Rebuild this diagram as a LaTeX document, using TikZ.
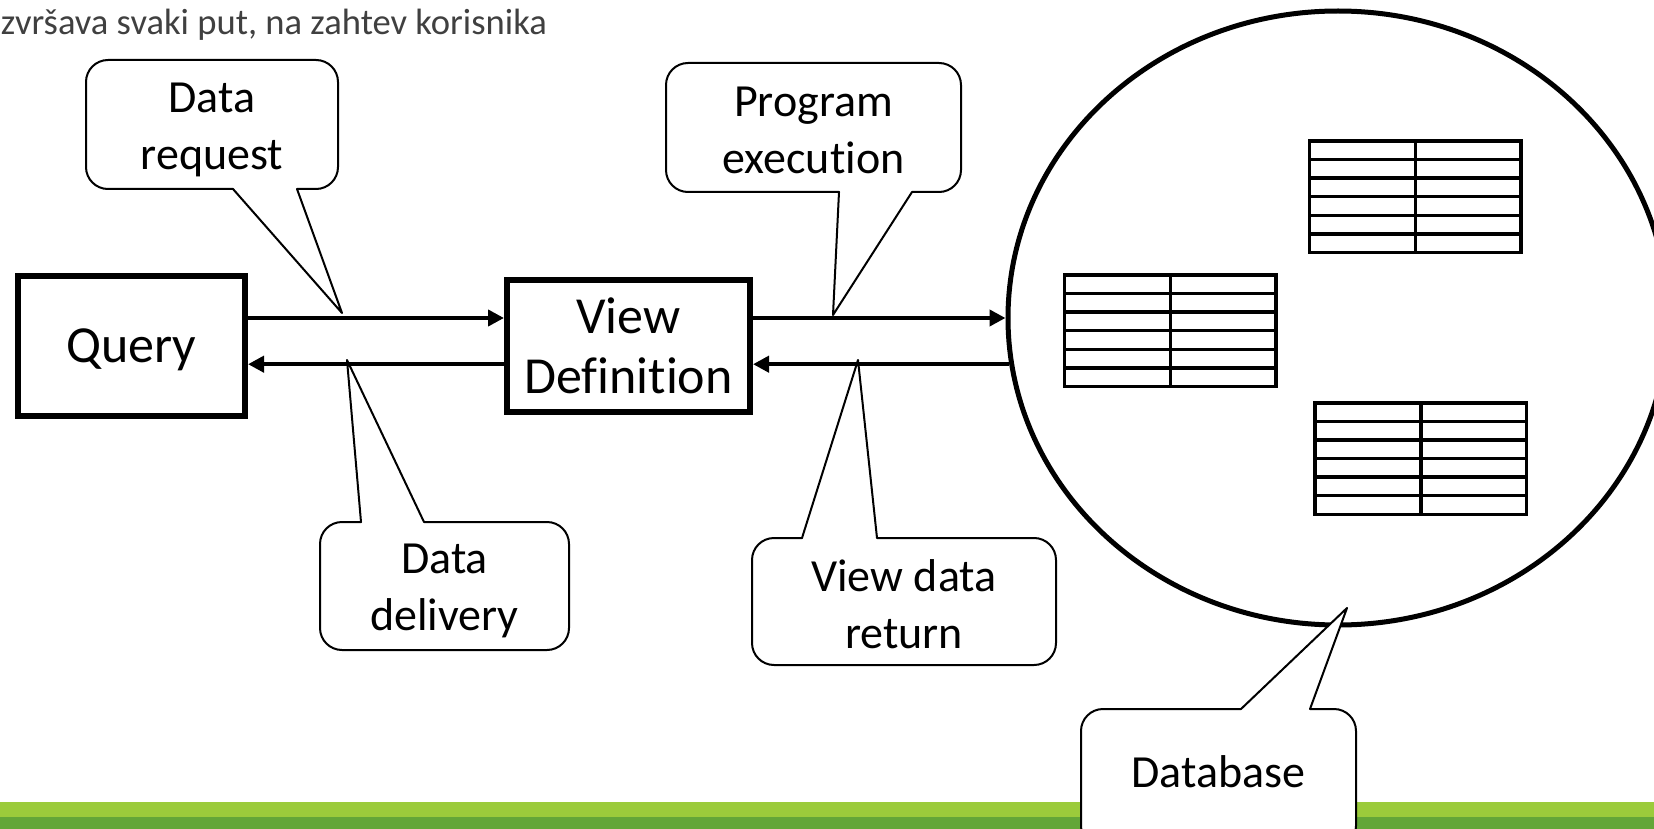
\documentclass[tikz,border=0pt]{standalone}
\usepackage{fontspec}
\setmainfont{Carlito}[Ligatures=NoCommon]
\usetikzlibrary{arrows.meta,shapes.geometric}
\definecolor{lgreen}{HTML}{9BCB3B}
\definecolor{dgreen}{HTML}{63A638}
\definecolor{topgray}{HTML}{404040}
\newcommand\qfont{\fontsize{52}{60}\selectfont}
\newcommand\cfont{\fontsize{46}{57}\selectfont}
\newcommand\tfont{\fontsize{36.6}{42}\selectfont}
\begin{document}
\begin{tikzpicture}[x=1pt,y=-1pt,
  box/.style={draw, line width=6pt, inner sep=0pt},
  boxtext/.style={inner sep=0pt, align=center, font=\qfont},
  arr/.style={line width=4.5pt, -{Triangle[length=16pt,width=16pt]}},
  callbox/.style={fill=white, rounded corners=22pt, inner sep=0pt, outer sep=0pt},
  calltext/.style={inner sep=0pt, align=center, font=\cfont},
  cline/.style={line width=2pt, line cap=round, line join=round},
  tbl/.style={line width=3.5pt},
  dbell/.style={draw, ellipse, line width=5pt, inner sep=0pt}]
\useasboundingbox (0,0) rectangle (1654,829);
% bottom bars
\fill[lgreen] (0,802) rectangle (1654,817);
\fill[dgreen] (0,817) rectangle (1654,829);
% title text
\node[anchor=base east, font=\tfont, text=topgray, inner sep=0pt] (title) at (547,35) {zvršava svaki put, na zahtev korisnika};
% database ellipse
\node[dbell, minimum width=660pt, minimum height=614pt] (db) at (1338,318) {};
% tables
\foreach \tx/\ty in {1309.5/141, 1064.5/275, 1314.8/402.8}{
  \draw[tbl] (\tx,\ty) rectangle ++(211.5,111.5);
  \foreach \i in {1,...,5}{\draw[tbl] (\tx,{\ty+\i*18.58}) -- ++(211.5,0);}
  \draw[tbl] ({\tx+106},\ty) -- ++(0,111.5);
}
% boxes
\node[box, minimum width=227pt, minimum height=140pt] (q) at (131.5,346) {};
\node[boxtext] (ql) at ([yshift=-4pt]q.center) {Query};
\node[box, minimum width=243pt, minimum height=132pt] (vd) at (628.5,346) {};
\node[boxtext] (vdl) at (vd.center) {View\\Definition};
% arrows
\draw[arr] (q.east |- db.west) -- (vd.west |- db.west);
\draw[arr] (vd.east |- db.west) -- (db.west);
\draw[arr] (db.188) -- (vd.east |- db.188);
\draw[arr] (vd.west |- db.188) -- (q.east |- db.188);
% callout 1
\node[callbox, minimum width=252pt, minimum height=129pt] (c1) at (212,124.5) {};
\node[calltext] (c1l) at ([yshift=-5pt]c1.center) {Data\\request};
\coordinate (c1t) at (342,313);
\coordinate (c1a) at (233,189);
\coordinate (c1b) at (297,189);
\fill[white] (c1a) -- (c1t) -- (c1b) -- cycle;
\draw[cline, rounded corners=22pt] (c1b) -- (c1.south east) -- (c1.north east) -- (c1.north west) -- (c1.south west) -- (c1a);
\draw[cline] (c1a) -- (c1t) -- (c1b);
% callout 2
\node[callbox, minimum width=295pt, minimum height=129pt] (c2) at (813.5,127.5) {};
\node[calltext] (c2l) at ([yshift=-3pt]c2.center) {Program\\execution};
\coordinate (c2t) at (833,315);
\coordinate (c2a) at (839,192);
\coordinate (c2b) at (912,192);
\fill[white] (c2a) -- (c2t) -- (c2b) -- cycle;
\draw[cline, rounded corners=22pt] (c2b) -- (c2.south east) -- (c2.north east) -- (c2.north west) -- (c2.south west) -- (c2a);
\draw[cline] (c2a) -- (c2t) -- (c2b);
% callout 3
\node[callbox, minimum width=249pt, minimum height=128pt] (c3) at (444.5,586) {};
\node[calltext] (c3l) at ([yshift=-5pt]c3.center) {Data\\delivery};
\coordinate (c3t) at (347,360);
\coordinate (c3a) at (361,522);
\coordinate (c3b) at (424,522);
\fill[white] (c3a) -- (c3t) -- (c3b) -- cycle;
\draw[cline, rounded corners=22pt] (c3b) -- (c3.north east) -- (c3.south east) -- (c3.south west) -- (c3.north west) -- (c3a);
\draw[cline] (c3a) -- (c3t) -- (c3b);
% callout 4
\node[callbox, minimum width=304pt, minimum height=127pt] (c4) at (904,601.5) {};
\node[calltext] (c4l) at ([yshift=-3pt]c4.center) {View data\\return};
\coordinate (c4t) at (858,360);
\coordinate (c4a) at (802,538);
\coordinate (c4b) at (877,538);
\fill[white] (c4a) -- (c4t) -- (c4b) -- cycle;
\draw[cline, rounded corners=22pt] (c4b) -- (c4.north east) -- (c4.south east) -- (c4.south west) -- (c4.north west) -- (c4a);
\draw[cline] (c4a) -- (c4t) -- (c4b);
% callout 5
\node[callbox, minimum width=275pt, minimum height=139pt] (c5) at (1218.5,778.5) {};
\node[calltext] (c5l) at (1218.5,772) {Database};
\coordinate (c5t) at (1347,608);
\coordinate (c5a) at (1241,709);
\coordinate (c5b) at (1310,709);
\fill[white] (c5a) -- (c5t) -- (c5b) -- cycle;
\draw[cline, rounded corners=22pt] (c5b) -- (c5.north east) -- (c5.south east) -- (c5.south west) -- (c5.north west) -- (c5a);
\draw[cline] (c5a) -- (c5t) -- (c5b);
\end{tikzpicture}
\end{document}
